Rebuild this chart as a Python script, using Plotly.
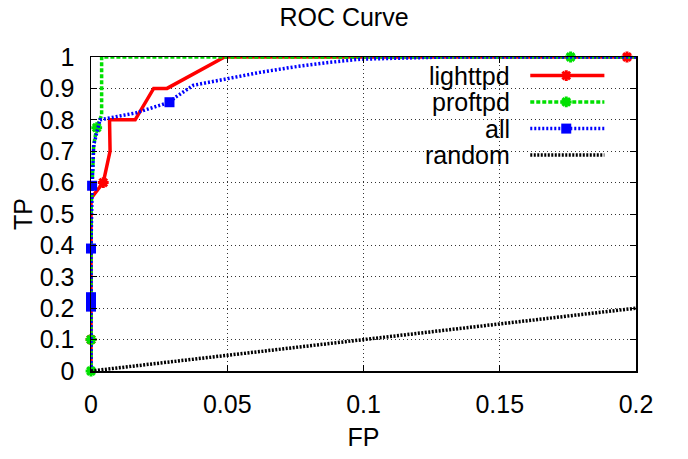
import plotly.graph_objects as go

# ---------------- data ----------------
fp_ticks = [0, 0.05, 0.1, 0.15, 0.2]
fp_tick_labels = ["0", "0.05", "0.1", "0.15", "0.2"]
tp_ticks = [0, 0.1, 0.2, 0.3, 0.4, 0.5, 0.6, 0.7, 0.8, 0.9, 1.0]
tp_tick_labels = ["0", "0.1", "0.2", "0.3", "0.4", "0.5", "0.6", "0.7", "0.8", "0.9", "1"]

lighttpd_fp = [0, 0, 0, 0.0045, 0.0070, 0.0068, 0.0162, 0.0230, 0.0279, 0.0490, 0.1967, 0.2]
lighttpd_tp = [0, 0.1, 0.55, 0.6, 0.7, 0.8, 0.8, 0.9, 0.9, 1.0, 1.0, 1.0]
lighttpd_marks = [1, 3, 10]

proftpd_fp = [0, 0, 0, 0.001, 0.0021, 0.0039, 0.0039, 0.176, 0.2]
proftpd_tp = [0, 0.1, 0.5, 0.72, 0.775, 0.815, 1.0, 1.0, 1.0]
proftpd_marks = [0, 1, 4, 7]

all_fp = [0, 0, 0, 0, 0.0004, 0.001, 0.0033, 0.0165, 0.0288, 0.031, 0.0376, 0.0437,
          0.0498, 0.062, 0.0742, 0.0865, 0.0987, 0.111, 0.13, 0.2]
all_tp = [0, 0.205, 0.235, 0.39, 0.59, 0.72, 0.80, 0.822, 0.856, 0.872, 0.91, 0.92,
          0.93, 0.951, 0.968, 0.982, 0.993, 0.996, 1.0, 1.0]
all_marks = [1, 2, 3, 4, 8]

random_fp = [0, 0.2]
random_tp = [0, 0.2]

series_names = ["lighttpd", "proftpd", "all", "random"]

# ---------------- styles ----------------
FONT = "Liberation Sans, Arial, sans-serif"
FS = 25
styles = {
    "lighttpd": dict(color="#ff0000", dash="solid", symbol="asterisk-open", msize=9),
    "proftpd": dict(color="#00e000", dash="4px,2px", symbol="asterisk-open", msize=9),
    "all": dict(color="#0000ff", dash="2px,2px", symbol="square", msize=10),
    "random": dict(color="#000000", dash="2px,1.5px", symbol=None, msize=0),
}
LW = 3.5

series = {
    "lighttpd": (lighttpd_fp, lighttpd_tp, lighttpd_marks),
    "proftpd": (proftpd_fp, proftpd_tp, proftpd_marks),
    "all": (all_fp, all_tp, all_marks),
    "random": (random_fp, random_tp, []),
}

fig = go.Figure()

for name in series_names:
    xs, ys, marks = series[name]
    st = styles[name]
    fig.add_trace(go.Scatter(x=xs, y=ys, mode="lines", showlegend=False,
                             line=dict(color=st["color"], width=LW, dash=st["dash"]),
                             cliponaxis=False, hoverinfo="skip"))
    if marks:
        mk = dict(color=st["color"], size=st["msize"], symbol=st["symbol"])
        if st["symbol"].endswith("open"):
            mk["line"] = dict(color=st["color"], width=3)
        fig.add_trace(go.Scatter(x=[xs[i] for i in marks], y=[ys[i] for i in marks],
                                 mode="markers", showlegend=False, marker=mk,
                                 cliponaxis=False, hoverinfo="skip"))

# ---------------- custom legend (gnuplot style: text left, sample right) ----------------
leg_rows = [0.941, 0.857, 0.772, 0.688]
sx0, sx1, smid = 0.806, 0.942, 0.872
for name, ry in zip(series_names, leg_rows):
    st = styles[name]
    fig.add_trace(go.Scatter(x=[sx0, sx1], y=[ry, ry], xaxis="x2", yaxis="y2", mode="lines",
                             showlegend=False, hoverinfo="skip",
                             line=dict(color=st["color"], width=LW, dash=st["dash"])))
    if st["symbol"]:
        mk = dict(color=st["color"], size=st["msize"], symbol=st["symbol"])
        if st["symbol"].endswith("open"):
            mk["line"] = dict(color=st["color"], width=3)
        fig.add_trace(go.Scatter(x=[smid], y=[ry], xaxis="x2", yaxis="y2", mode="markers",
                                 showlegend=False, hoverinfo="skip", marker=mk))
    fig.add_annotation(x=0.773, y=ry, xref="paper", yref="paper", text=name,
                       showarrow=False, xanchor="right", yanchor="middle",
                       font=dict(family=FONT, size=FS, color="black"))

fig.add_shape(type="rect", xref="paper", yref="paper", x0=0.60, x1=0.963, y0=0.645, y1=0.985,
              fillcolor="white", line=dict(width=0), layer="between")

axis_common = dict(showline=True, linecolor="black", linewidth=1.5, mirror="ticks",
                   ticks="inside", ticklen=6, tickcolor="black", tickwidth=1,
                   showgrid=True, gridcolor="#333333", gridwidth=1, griddash="1px,3px",
                   zeroline=False, tickfont=dict(family=FONT, size=FS, color="black"))

fig.update_layout(
    width=688, height=459,
    margin=dict(l=91, r=52, t=57, b=81),
    plot_bgcolor="white", paper_bgcolor="white",
    title=dict(text="ROC Curve", x=0.5, xref="container", xanchor="center",
               y=0.962, yref="container", yanchor="middle",
               font=dict(family=FONT, size=FS, color="black")),
    xaxis=dict(range=[0, 0.2], tickvals=fp_ticks, ticktext=fp_tick_labels,
               title=dict(text="FP", font=dict(family=FONT, size=FS, color="black"), standoff=12),
               ticklabelstandoff=10, **axis_common),
    yaxis=dict(range=[0, 1], tickvals=tp_ticks, ticktext=tp_tick_labels,
               title=dict(text="TP", font=dict(family=FONT, size=FS, color="black"), standoff=0),
               ticklabelstandoff=10, **axis_common),
    xaxis2=dict(overlaying="x", range=[0, 1], visible=False),
    yaxis2=dict(overlaying="y", range=[0, 1], visible=False),
    showlegend=False,
)

# remove the browser's default 8px body margin so the figure fills the window exactly
fig.write_html("out.html",
               config={"displayModeBar": False, "staticPlot": True},
               post_script="document.body.style.margin='0';document.body.style.overflow='hidden';")
